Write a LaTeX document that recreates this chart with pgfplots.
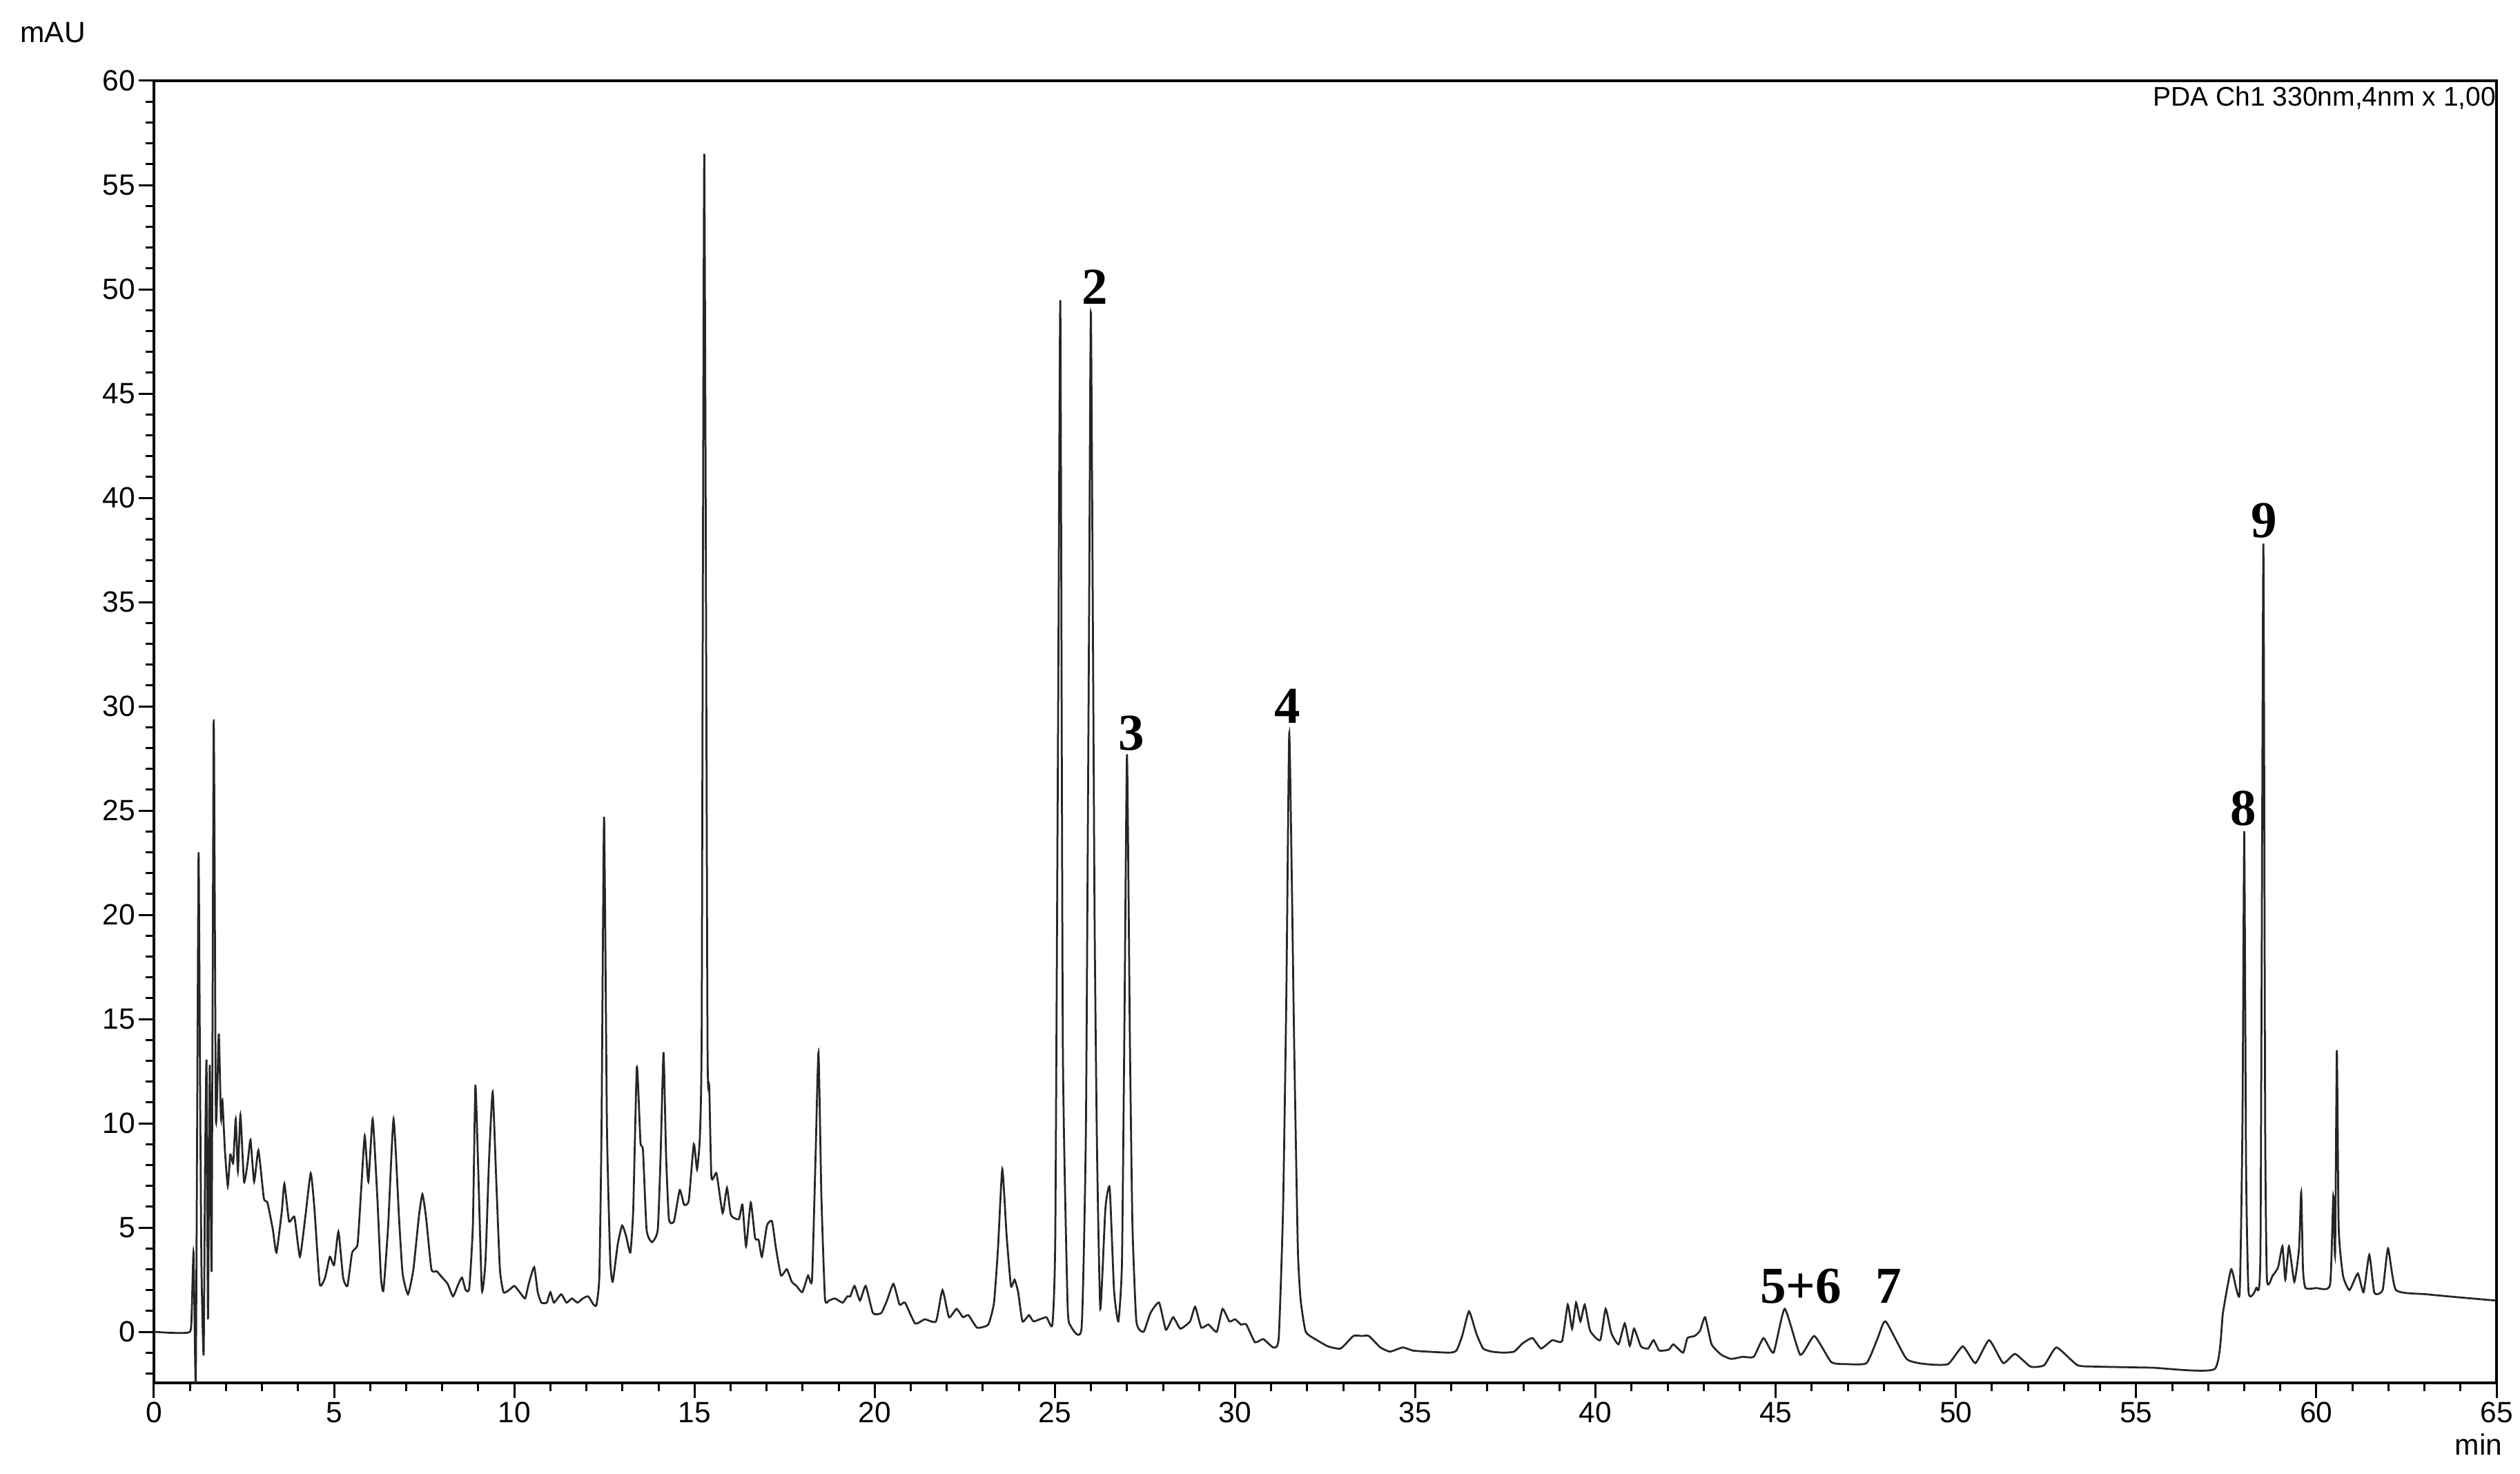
\documentclass[border=0pt]{standalone}
\usepackage{fontspec}
\setmainfont{Liberation Sans}
\newfontfamily\peakfont{Liberation Serif}
\usepackage{pgfplots}
\pgfplotsset{compat=1.18}

\tikzset{
  peak/.style={font=\peakfont\bfseries\fontsize{15}{18}\selectfont, inner sep=0pt},
}

\begin{document}
\begin{tikzpicture}
\path[use as bounding box] (-44.6pt,-26.2pt) rectangle (685.6pt,400.6pt);
\begin{axis}[
    at={(0,0)}, anchor=south west,
    scale only axis, width=678.8pt, height=377.2pt,
    xmin=0, xmax=65, ymin=-2.45, ymax=60,
    xtick={0,5,...,65}, ytick={0,5,...,60},
    minor xtick={1,...,64}, minor ytick={-2,-1,...,59},
    tick align=outside, tick pos=left,
    major tick length=4.4pt, minor tick length=2.4pt,
    every tick/.style={black, line width=0.6pt},
    axis line style={line width=0.7pt},
    tick label style={font=\fontsize{8.5}{10}\selectfont},
    yticklabel style={inner sep=0.8pt},
    xticklabel style={inner sep=1pt},
    /pgf/number format/assume math mode=true,
    clip mode=individual,
  ]
% chromatogram, PDA 330 nm
\addplot[black!85, line width=0.55pt, smooth, tension=0.3] coordinates {
(0,0) (0.5,-0.05) (1.0,0) (1.05,1.0) (1.1,3.8) (1.16,-2.6) (1.2,10) (1.24,23.0) (1.28,12) (1.32,3)
(1.38,-1.1) (1.42,8) (1.46,13.0) (1.5,0.6) (1.55,12.8) (1.6,3.0) (1.66,29.3) (1.72,10.2) (1.8,14.3)
(1.86,10.2) (1.9,11.1) (1.97,8.7) (2.05,7.0) (2.12,8.5) (2.2,8.1) (2.27,10.2) (2.33,7.7) (2.4,10.4)
(2.5,7.2) (2.6,8.1) (2.68,9.2) (2.78,7.2) (2.9,8.7) (3.05,6.4) (3.15,6.2) (3.3,4.9) (3.4,3.8)
(3.55,5.8) (3.62,7.1) (3.75,5.3) (3.9,5.5) (4.05,3.6) (4.2,5.5) (4.35,7.6) (4.45,6.0) (4.6,2.3)
(4.75,2.6) (4.88,3.6) (5.0,3.2) (5.12,4.8) (5.25,2.6) (5.37,2.2) (5.5,3.8) (5.65,4.2) (5.75,6.8)
(5.85,9.4) (5.95,7.2) (6.07,10.2) (6.2,6.4) (6.3,2.6) (6.37,2.0) (6.5,5.1) (6.65,10.2) (6.8,5.5)
(6.9,2.8) (7.05,1.8) (7.2,3.0) (7.35,5.5) (7.45,6.6) (7.55,5.5) (7.7,3.0) (7.85,2.9) (8.0,2.6)
(8.15,2.3) (8.3,1.7) (8.45,2.3) (8.55,2.6) (8.65,2.0) (8.75,2.1) (8.85,5.1) (8.92,11.8) (9.0,7.7)
(9.1,2.0) (9.2,3.4) (9.3,8.3) (9.4,11.5) (9.5,7.2) (9.6,3.0) (9.7,1.9) (9.85,2.0) (10.0,2.2)
(10.15,1.9) (10.3,1.6) (10.4,2.3) (10.55,3.1) (10.65,1.9) (10.75,1.4) (10.9,1.4) (11.0,1.9)
(11.1,1.4) (11.3,1.8) (11.45,1.4) (11.6,1.6) (11.75,1.4) (11.9,1.6) (12.05,1.7) (12.2,1.3)
(12.28,1.3) (12.36,2.7) (12.42,9.8) (12.49,24.7) (12.57,9.8) (12.66,3.5) (12.73,2.4) (12.87,4.2)
(12.99,5.1) (13.1,4.6) (13.22,3.8) (13.3,5.9) (13.4,12.7) (13.5,9.1) (13.57,8.7) (13.67,4.9)
(13.82,4.3) (13.98,4.9) (14.06,8.5) (14.14,13.4) (14.21,8.5) (14.29,5.4) (14.43,5.3) (14.59,6.8)
(14.71,6.1) (14.84,6.3) (14.98,9.0) (15.07,7.8) (15.15,9.4) (15.2,14.9) (15.27,56.5) (15.36,14)
(15.41,11.7) (15.47,7.4) (15.61,7.6) (15.78,5.7) (15.9,6.9) (16.01,5.6) (16.23,5.4) (16.33,6.1)
(16.43,4.1) (16.56,6.2) (16.68,4.5) (16.78,4.4) (16.87,3.6) (17.01,5.1) (17.15,5.3) (17.26,4.0)
(17.4,2.7) (17.56,3.0) (17.7,2.4) (17.83,2.2) (17.99,1.9) (18.15,2.7) (18.26,2.5) (18.36,8.5)
(18.44,13.4) (18.52,6.5) (18.62,1.6) (18.73,1.5) (18.89,1.6) (19.11,1.4) (19.24,1.7) (19.32,1.7)
(19.44,2.2) (19.59,1.5) (19.75,2.2) (19.95,0.9) (20.18,0.9) (20.34,1.5) (20.52,2.3) (20.69,1.3)
(20.84,1.4) (21.12,0.4) (21.39,0.6) (21.7,0.5) (21.88,2.0) (22.06,0.7) (22.27,1.1) (22.45,0.7)
(22.6,0.8) (22.84,0.2) (23.15,0.35) (23.31,1.4) (23.42,4.0) (23.54,7.8) (23.66,4.6) (23.78,2.2)
(23.88,2.5) (23.98,1.9) (24.1,0.5) (24.28,0.8) (24.41,0.5) (24.76,0.7) (24.93,0.35)
(25.01,4.6) (25.09,30) (25.15,49.4) (25.22,13.6) (25.35,1.4) (25.43,0.3) (25.74,0.2) (25.86,9.8)
(25.95,35) (26.0,48.8) (26.1,20) (26.17,8.5) (26.26,1.1) (26.4,5.9) (26.52,6.9) (26.64,2.0)
(26.76,0.5) (26.86,3.3) (26.93,15) (27.0,27.7) (27.08,14) (27.15,5.2) (27.26,0.5) (27.46,0.0)
(27.65,0.9) (27.89,1.4) (28.08,0.1) (28.28,0.7) (28.48,0.15) (28.75,0.5) (28.89,1.2) (29.06,0.2)
(29.26,0.35) (29.49,0.0) (29.65,1.1) (29.84,0.5) (30.0,0.6) (30.16,0.35) (30.31,0.35) (30.55,-0.5)
(30.78,-0.35) (31.06,-0.75) (31.21,-0.3) (31.33,5.9) (31.42,16) (31.5,28.7) (31.57,22)
(31.64,13.6) (31.74,4) (31.82,1.5) (31.96,0) (32.27,-0.4) (32.58,-0.7) (32.93,-0.8) (33.28,-0.2)
(33.52,-0.2) (33.71,-0.2) (34.03,-0.75) (34.3,-0.95) (34.65,-0.75) (34.93,-0.9) (35.32,-0.95)
(35.94,-1.0) (36.14,-0.9) (36.3,-0.2) (36.49,0.98) (36.69,-0.07) (36.88,-0.8) (37.12,-0.95)
(37.43,-1.0) (37.74,-0.95) (37.98,-0.55) (38.25,-0.3) (38.49,-0.8) (38.8,-0.4) (39.07,-0.45)
(39.23,1.3) (39.35,0.15) (39.46,1.4) (39.58,0.5) (39.7,1.3) (39.85,0.05) (40.13,-0.4) (40.28,1.1)
(40.44,-0.07) (40.64,-0.6) (40.81,0.4) (40.95,-0.67) (41.07,0.15) (41.26,-0.7) (41.46,-0.8)
(41.61,-0.4) (41.77,-0.9) (42.04,-0.85) (42.16,-0.6) (42.43,-1.0) (42.55,-0.3) (42.75,-0.2)
(42.9,0.05) (43.04,0.7) (43.22,-0.6) (43.49,-1.1) (43.76,-1.3) (44.08,-1.2) (44.39,-1.2)
(44.66,-0.3) (44.94,-1.0) (45.25,1.1) (45.68,-1.1) (46.07,-0.2) (46.54,-1.45) (46.97,-1.55)
(47.52,-1.5) (47.83,-0.3) (48.05,0.5) (48.63,-1.3) (49.17,-1.55) (49.78,-1.55) (50.19,-0.7)
(50.54,-1.5) (50.92,-0.4) (51.31,-1.5) (51.64,-1.06) (52.07,-1.67) (52.45,-1.6) (52.79,-0.75)
(53.37,-1.6) (53.9,-1.67) (55.43,-1.72) (57.18,-1.78) (57.41,0.93) (57.64,3.0) (57.87,1.8)
(57.95,10) (58.0,24.0) (58.05,8) (58.12,1.9) (58.33,2.1) (58.45,4) (58.53,37.8) (58.58,10)
(58.63,2.5) (58.79,2.7) (58.94,3.1) (59.06,4.1) (59.14,2.5) (59.24,4.1) (59.39,2.4) (59.52,4)
(59.58,6.7) (59.63,3) (59.7,2.1) (60.0,2.1) (60.38,2.25) (60.47,6.5) (60.52,3.7) (60.57,13.5)
(60.62,5) (60.74,2.7) (60.92,2.0) (61.15,2.8) (61.31,1.9) (61.47,3.7) (61.61,1.87) (61.84,2.0)
(61.99,4.0) (62.21,2.0) (63.06,1.8) (63.98,1.65) (64.97,1.5)
};

\node[anchor=north east, inner sep=0pt, yshift=-1.5pt, font=\fontsize{7.8}{9}\selectfont]
  at (rel axis cs:1,1) {PDA Ch1 330nm,4nm x 1,00};
\node[font=\fontsize{8.5}{10}\selectfont] at (axis cs:-2.8,62.3) {mAU};
\node[font=\fontsize{8.5}{10}\selectfont] at (axis cs:64.5,-5.4) {min};

\node[peak] at (axis cs:26.1,50.1) {2};
\node[peak] at (axis cs:27.12,28.7) {3};
\node[peak] at (axis cs:31.45,30.0) {4};
\node[peak] at (axis cs:45.7,2.2) {5+6};
\node[peak] at (axis cs:48.13,2.2) {7};
\node[peak] at (axis cs:57.98,25.1) {8};
\node[peak] at (axis cs:58.56,38.9) {9};
\end{axis}
\end{tikzpicture}
\end{document}
